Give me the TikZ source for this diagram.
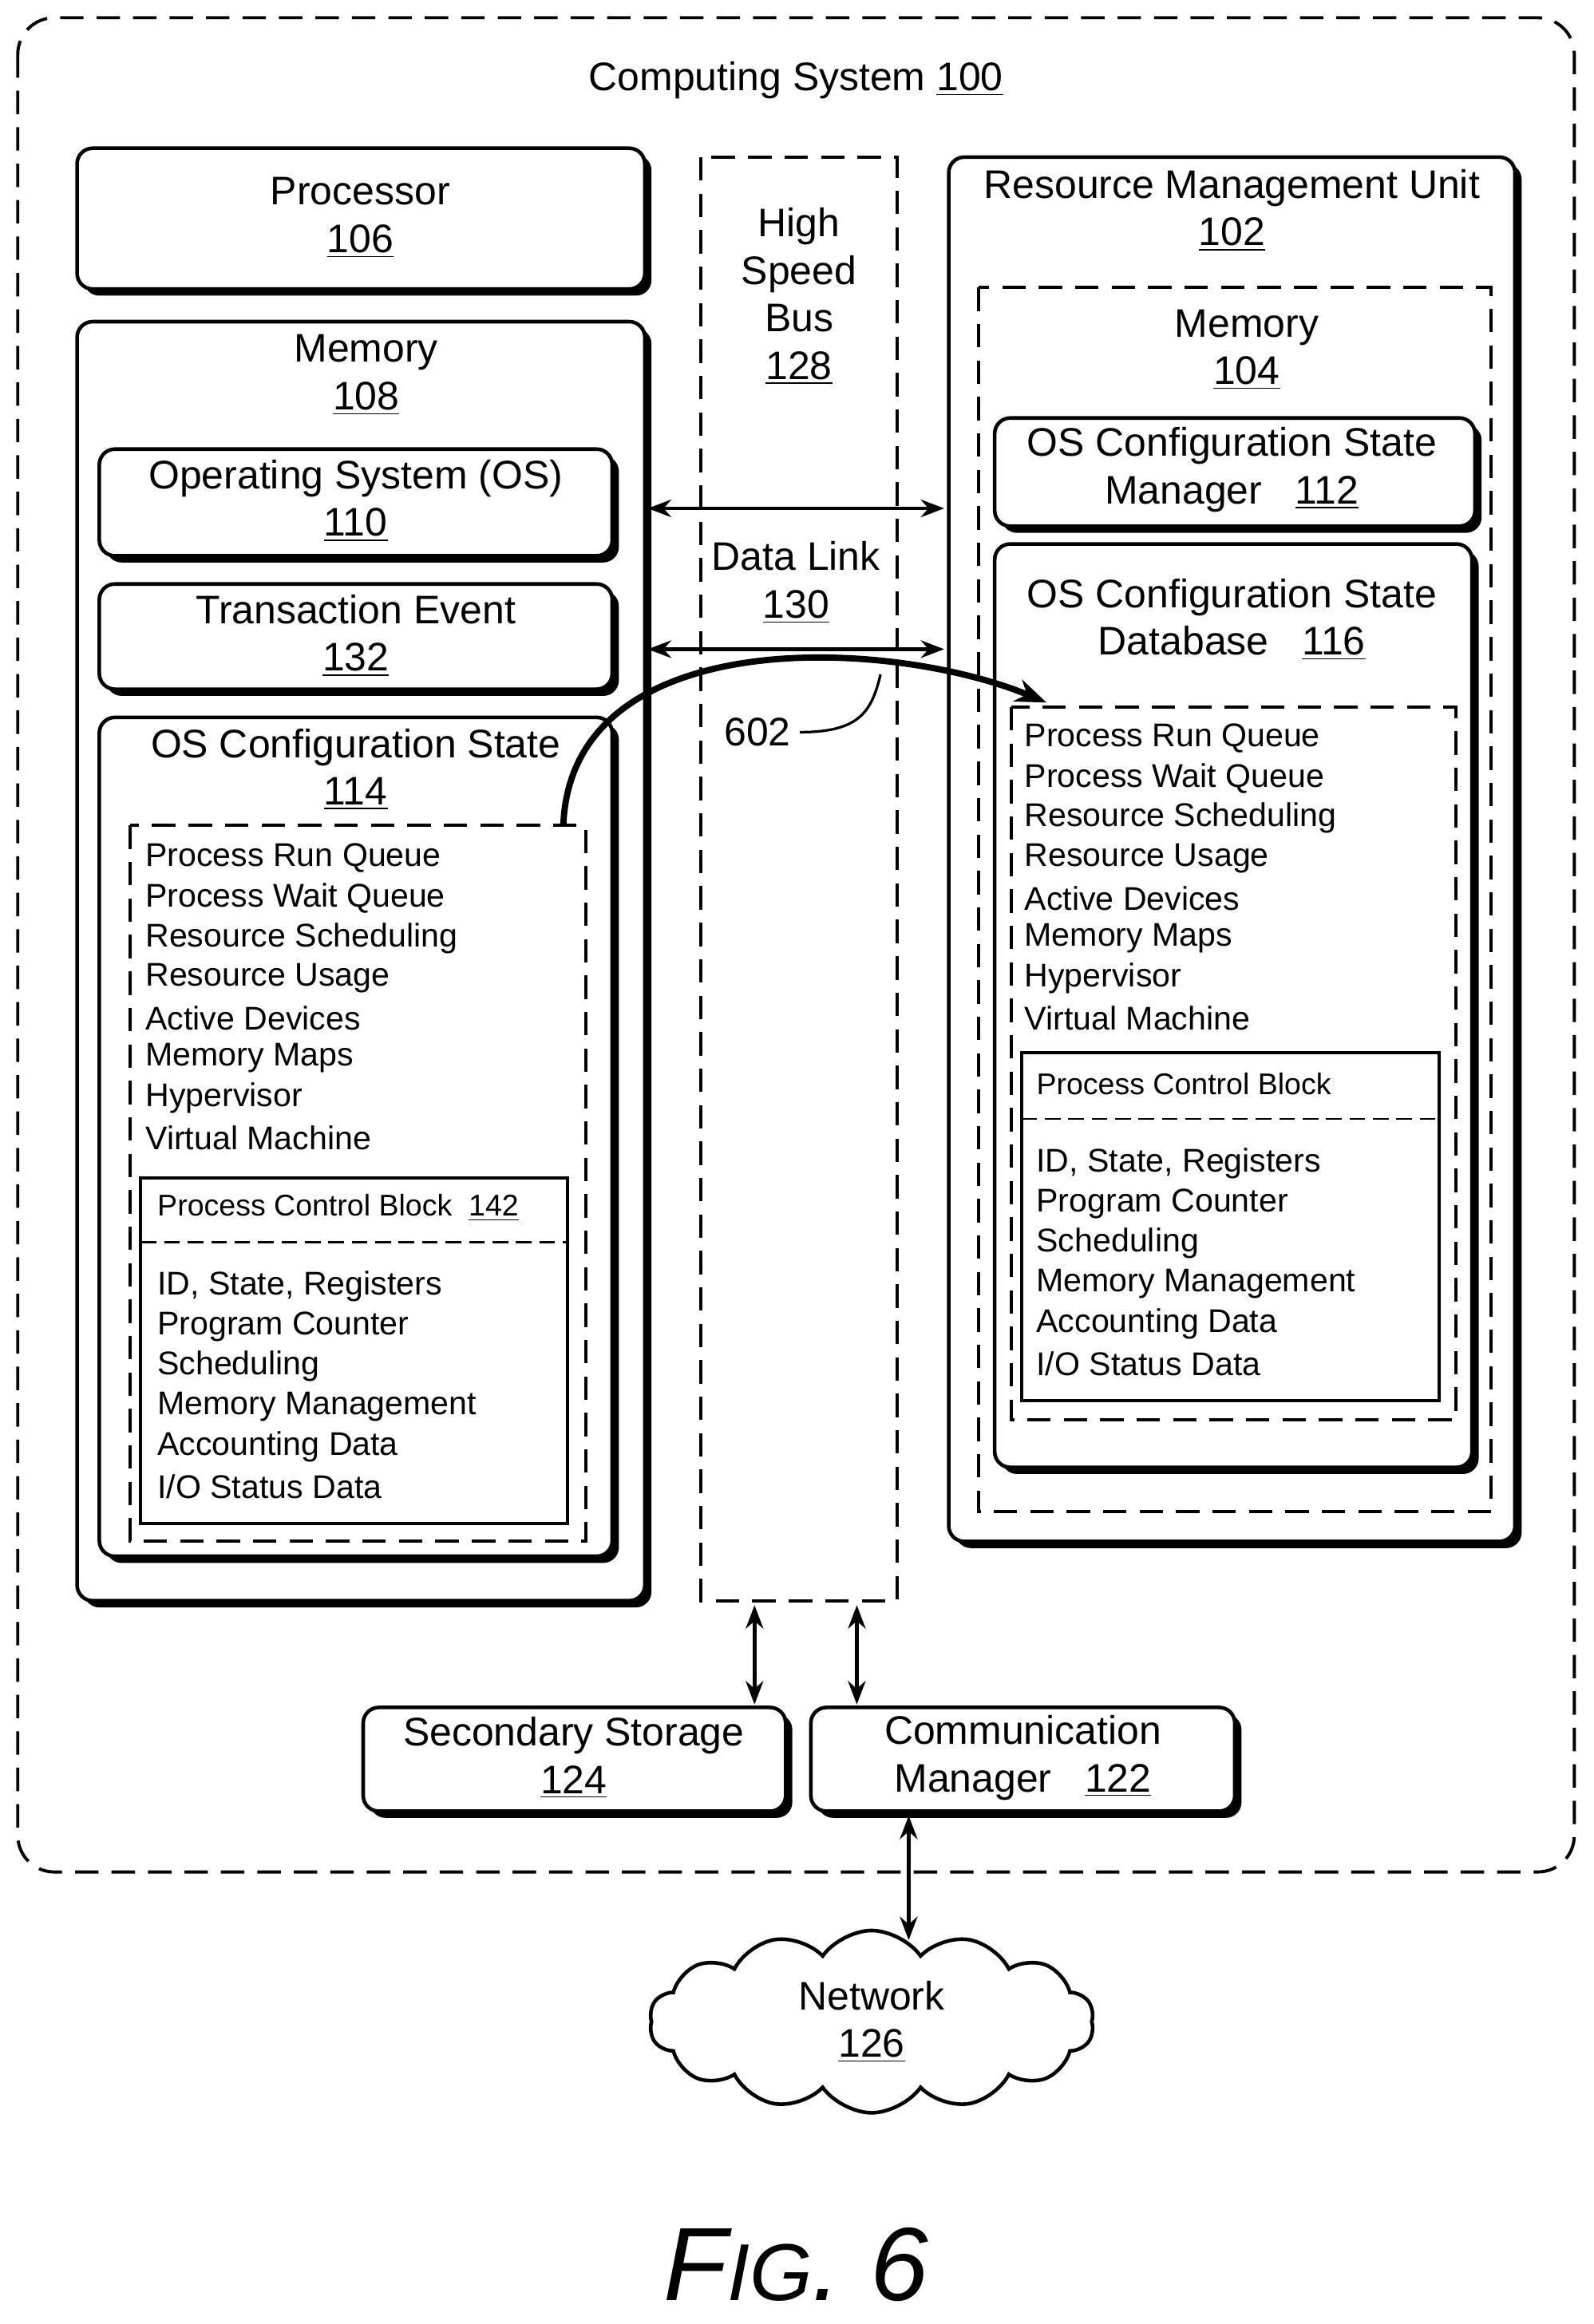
\documentclass[tikz,border=0pt]{standalone}
\usepackage{fontspec}
\setmainfont{Liberation Sans}
\usetikzlibrary{shadows,shapes.symbols,arrows.meta}
\begin{document}
\begin{tikzpicture}[x=0.02cm,y=-0.02cm,
 box/.style={draw,line width=1.4pt,rounded corners=6pt,fill=white,drop shadow={shadow xshift=0.09cm,shadow yshift=-0.09cm,fill=black,opacity=1}},
 dbox/.style={draw,line width=1.2pt,dash pattern=on 9pt off 5pt},
 big/.style={font=\fontsize{15.3}{18.2}\selectfont},
 sm/.style={font=\fontsize{12.6}{14}\selectfont,anchor=west},
 tiny/.style={font=\fontsize{11.5}{13}\selectfont,anchor=west},
 arr/.style={line width=1.4pt,{Stealth[length=9pt]}-{Stealth[length=9pt]}}]
\useasboundingbox (0,0) rectangle (1075,1568);
\draw[dbox,rounded corners=14pt] (12,12) rectangle (1062,1263);
\node[big] (cs) at (537,54) {Computing System \underline{100}};
% left
\draw[box] (52,100) rectangle (435,195);
\node[big,align=center] (proc) at (243,147) {Processor\\\underline{106}};
\draw[box] (52,217) rectangle (435,1080);
\node[big,align=center] (m108) at (247,253) {Memory\\\underline{108}};
\draw[box] (67,303) rectangle (413,375);
\node[big,align=center] (os) at (240,338) {Operating System (OS)\\\underline{110}};
\draw[box] (67,394) rectangle (413,465);
\node[big,align=center] (te) at (240,429) {Transaction Event\\\underline{132}};
\draw[box] (67,484) rectangle (413,1050);
\node[big,align=center] (cs114) at (240,519) {OS Configuration State\\\underline{114}};
\draw[dbox] (88,557) rectangle (395,1040);
\foreach \t [count=\i from 0] in {Process Run Queue,Process Wait Queue,Resource Scheduling,Resource Usage,Active Devices,Memory Maps,Hypervisor,Virtual Machine}
  \node[sm] (l\i) at (92,579+27*\i) {\t};
\draw[line width=1.2pt] (95,795) rectangle (383,1028);
\node[tiny] (pcbl) at (100,815) {Process Control Block\ \ \underline{142}};
\draw[dash pattern=on 6pt off 3pt,line width=0.8pt] (95,838) -- (383,838);
\foreach \t [count=\i from 0] in {{ID, State, Registers},Program Counter,Scheduling,Memory Management,Accounting Data,I/O Status Data}
  \node[sm] (p\i) at (100,868+27*\i) {\t};
% bus
\draw[dbox] (473,106) rectangle (605,1080);
\node[big,align=center] (bus) at (539,200) {High\\Speed\\Bus\\\underline{128}};
\node[big,align=center] (dl) at (537,393) {Data Link\\\underline{130}};
% right
\draw[box] (640,106) rectangle (1022,1040);
\node[big,align=center] (rmu) at (831,142) {Resource Management Unit\\\underline{102}};
\draw[dbox] (660,194) rectangle (1006,1020);
\node[big,align=center] (m104) at (841,236) {Memory\\\underline{104}};
\draw[box] (671,282) rectangle (995,355);
\node[big,align=center] (mgr) at (831,317) {OS Configuration State\\Manager\ \ \ \underline{112}};
\draw[box] (671,367) rectangle (993,990);
\node[big,align=center] (db) at (831,418) {OS Configuration State\\Database\ \ \ \underline{116}};
\draw[dbox] (682,477) rectangle (982,958);
\foreach \t [count=\i from 0] in {Process Run Queue,Process Wait Queue,Resource Scheduling,Resource Usage,Active Devices,Memory Maps,Hypervisor,Virtual Machine}
  \node[sm] (r\i) at (685,498+27*\i) {\t};
\draw[line width=1.2pt] (689,710) rectangle (971,945);
\node[tiny] (pcbr) at (693,731) {Process Control Block};
\draw[dash pattern=on 6pt off 3pt,line width=0.8pt] (689,755) -- (971,755);
\foreach \t [count=\i from 0] in {{ID, State, Registers},Program Counter,Scheduling,Memory Management,Accounting Data,I/O Status Data}
  \node[sm] (q\i) at (693,785+27*\i) {\t};
% arrows
\coordinate (a1) at (437,343); \coordinate (b1) at (637,343);
\coordinate (a2) at (437,438); \coordinate (b2) at (637,438);
\draw[arr] (a1) -- (b1);
\draw[arr] (a2) -- (b2);
\coordinate (cs0) at (380,557); \coordinate (ce) at (706,474);
\draw[line width=2.4pt,-{Stealth[length=12pt]}] (cs0) .. controls (385,420) and (600,430) .. (ce);
\node[big] (n602) at (511,494) {602};
\coordinate (lt) at (594,455);
\draw[line width=1pt] (n602.east) .. controls (580,494) and (588,480) .. (lt);
% bottom
\draw[box] (245,1152) rectangle (530,1222);
\node[big,align=center] (ss) at (387,1186) {Secondary Storage\\\underline{124}};
\draw[box] (547,1152) rectangle (833,1222);
\node[big,align=center] (cm) at (690,1186) {Communication\\Manager\ \ \ \underline{122}};
\coordinate (v1a) at (509,1083); \coordinate (v1b) at (509,1150);
\coordinate (v2a) at (578,1083); \coordinate (v2b) at (578,1150);
\draw[arr] (v1a) -- (v1b);
\draw[arr] (v2a) -- (v2b);
\node[cloud,draw,line width=1.4pt,fill=white,cloud puffs=14,cloud puff arc=110,aspect=2.8,minimum width=300*0.02cm,minimum height=108*0.02cm,big,align=center] (net) at (588,1364) {Network\\\underline{126}};
\coordinate (c1) at (613,1225);
\draw[arr] (c1) -- (613,1309);
\node[font=\fontsize{40}{44}\selectfont\itshape] (fig) at (537,1528) {F{\fontsize{31}{36}\selectfont IG}. 6};
\end{tikzpicture}
\end{document}
